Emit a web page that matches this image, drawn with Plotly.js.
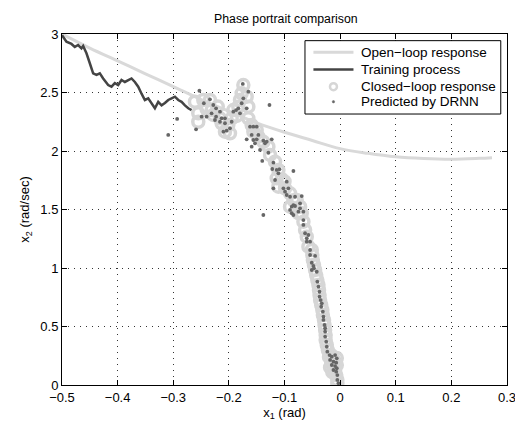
<!DOCTYPE html>
<html>
<head>
<meta charset="utf-8">
<script src="https://cdn.plot.ly/plotly-3.0.1.min.js"></script>
<style>html,body{margin:0;padding:0;background:#fff;}#chart{width:515px;height:423px;}</style>
</head>
<body>
<div id="chart"></div>
<script>
// Open-loop response (light gray curve)
const openX = [-0.5, -0.45, -0.4, -0.35, -0.3, -0.25, -0.2, -0.15, -0.1, -0.05, 0.0, 0.05, 0.1, 0.15, 0.2, 0.25, 0.273];
const openY = [3.0, 2.88, 2.77, 2.66, 2.55, 2.44, 2.34, 2.24, 2.16, 2.09, 2.02, 1.98, 1.95, 1.935, 1.929, 1.937, 1.943];

// Training process (dark jagged line)
const trainX = [-0.5, -0.492, -0.483, -0.477, -0.471, -0.465, -0.462, -0.456, -0.45, -0.444, -0.438, -0.432, -0.426, -0.417, -0.411, -0.405, -0.399, -0.393, -0.387, -0.381, -0.375, -0.369, -0.363, -0.357, -0.351, -0.345, -0.339, -0.333, -0.327, -0.321, -0.315, -0.309, -0.303, -0.297, -0.291, -0.285, -0.279, -0.273, -0.267];
const trainY = [2.99, 2.934, 2.915, 2.89, 2.906, 2.878, 2.897, 2.835, 2.75, 2.664, 2.65, 2.664, 2.62, 2.564, 2.55, 2.58, 2.564, 2.607, 2.59, 2.607, 2.62, 2.59, 2.55, 2.49, 2.436, 2.45, 2.408, 2.365, 2.42, 2.39, 2.41, 2.436, 2.45, 2.464, 2.436, 2.42, 2.39, 2.365, 2.35];

// Closed-loop response (light gray open circles)
const closedX = [-0.261, -0.255, -0.255, -0.246, -0.240, -0.234, -0.231, -0.228, -0.220, -0.216, -0.213, -0.207, -0.198, -0.201, -0.195, -0.192, -0.186, -0.183, -0.180, -0.177, -0.174, -0.168, -0.165, -0.165, -0.159, -0.156, -0.150, -0.147, -0.138, -0.129, -0.126, -0.117, -0.111, -0.114, -0.105, -0.111, -0.100, -0.099, -0.090, -0.084, -0.090, -0.078, -0.075, -0.072, -0.069, -0.066, -0.063, -0.060, -0.057,
  -0.051, -0.050, -0.049, -0.047, -0.045, -0.043, -0.041, -0.039, -0.038, -0.037, -0.036, -0.034, -0.032, -0.031, -0.029, -0.028, -0.027, -0.026, -0.026, -0.024, -0.022, -0.020, -0.016, -0.011, -0.006, -0.016, -0.013, -0.006, -0.018, -0.009, -0.009, -0.014, -0.007, -0.005, -0.005];
const closedY = [2.421, 2.322, 2.250, 2.436, 2.360, 2.436, 2.350, 2.308, 2.380, 2.279, 2.237, 2.165, 2.151, 2.222, 2.279, 2.350, 2.300, 2.379, 2.436, 2.493, 2.564, 2.464, 2.379, 2.279, 2.222, 2.165, 2.180, 2.122, 2.079, 2.037, 1.966, 1.909, 1.838, 1.767, 1.760, 1.695, 1.740, 1.681, 1.638, 1.580, 1.524, 1.581, 1.470, 1.524, 1.467, 1.396, 1.325, 1.268, 1.182,
  1.154, 1.111, 1.068, 1.026, 0.983, 0.940, 0.897, 0.855, 0.812, 0.769, 0.726, 0.684, 0.641, 0.598, 0.556, 0.513, 0.470, 0.427, 0.385, 0.342, 0.299, 0.240, 0.256, 0.214, 0.230, 0.190, 0.171, 0.170, 0.150, 0.150, 0.128, 0.110, 0.085, 0.043, 0.017];

// Predicted by DRNN (small dark gray dots)
const predX = [-0.253, -0.245, -0.234, -0.228, -0.249, -0.240, -0.231, -0.225, -0.259, -0.223, -0.216, -0.213, -0.207, -0.210, -0.204, -0.198, -0.195, -0.192, -0.187, -0.183, -0.180, -0.177, -0.174, -0.175, -0.165, -0.168, -0.207, -0.216, -0.223,
  -0.162, -0.156, -0.150, -0.159, -0.168, -0.156, -0.150, -0.147, -0.153, -0.138, -0.132, -0.135, -0.123, -0.159, -0.144, -0.129, -0.140, -0.120, -0.122, -0.114, -0.111, -0.117, -0.120, -0.102, -0.093, -0.084, -0.096, -0.109,
  -0.099, -0.096, -0.090, -0.081, -0.069, -0.072, -0.084, -0.087, -0.081, -0.090, -0.087, -0.075, -0.066, -0.084, -0.138, -0.066, -0.066, -0.063, -0.057, -0.060, -0.060, -0.054, -0.054, -0.054, -0.045, -0.072,
  -0.051, -0.048, -0.047, -0.051, -0.042, -0.041, -0.039, -0.037, -0.037, -0.035, -0.033, -0.034, -0.031, -0.030, -0.030, -0.028, -0.027,
  -0.027, -0.027, -0.025, -0.024, -0.023, -0.019, -0.015, -0.009, -0.006, -0.018, -0.012, -0.007, -0.015, -0.009, -0.006, -0.012, -0.007, -0.005, -0.005, -0.003,
  -0.293, -0.309, -0.127];
const predY = [2.515, 2.408, 2.442, 2.393, 2.293, 2.293, 2.322, 2.265, 2.185, 2.293, 2.250, 2.279, 2.237, 2.165, 2.174, 2.194, 2.250, 2.336, 2.350, 2.365, 2.322, 2.408, 2.450, 2.573, 2.507, 2.365, 2.279, 2.336, 2.365,
  2.208, 2.208, 2.208, 2.137, 2.100, 2.094, 2.100, 2.137, 2.066, 2.088, 2.080, 2.066, 2.100, 2.037, 2.009, 1.985, 1.915, 1.900, 1.846, 1.838, 1.809, 1.752, 1.681, 1.681, 1.681, 1.829, 1.738, 1.844,
  1.652, 1.624, 1.609, 1.609, 1.615, 1.553, 1.538, 1.524, 1.530, 1.496, 1.468, 1.481, 1.481, 1.453, 1.453, 1.410, 1.368, 1.297, 1.282, 1.254, 1.225, 1.225, 1.154, 1.111, 1.103, 1.510,
  1.045, 1.017, 0.997, 0.983, 0.968, 0.883, 0.840, 0.797, 0.755, 0.726, 0.698, 0.669, 0.627, 0.584, 0.556, 0.513, 0.485,
  0.456, 0.413, 0.370, 0.327, 0.285, 0.256, 0.242, 0.256, 0.228, 0.214, 0.199, 0.191, 0.171, 0.162, 0.143, 0.128, 0.114, 0.085, 0.043, 0.015,
  2.274, 2.137, 2.393];

const xTicks = [-0.5, -0.4, -0.3, -0.2, -0.1, 0, 0.1, 0.2, 0.3];
const yTicks = [0, 0.5, 1, 1.5, 2, 2.5, 3];
const seriesNames = ['Open\u2212loop response', 'Training process', 'Closed\u2212loop response', 'Predicted by DRNN'];

const lightGray = '#d6d6d6';
const darkLine = '#444444';
const dotColor = '#666666';

const traces = [
  {x: openX, y: openY, type: 'scatter', mode: 'lines', name: seriesNames[0],
   line: {color: '#d9d9d9', width: 3, shape: 'spline'}},
  {x: trainX, y: trainY, type: 'scatter', mode: 'lines', name: seriesNames[1],
   line: {color: darkLine, width: 2.5}},
  {x: closedX, y: closedY, type: 'scatter', mode: 'markers', name: seriesNames[2],
   marker: {symbol: 'circle-open', size: 11, color: lightGray, line: {width: 3.5, color: lightGray}}},
  {x: predX, y: predY, type: 'scatter', mode: 'markers', name: seriesNames[3],
   marker: {symbol: 'circle', size: 3.8, color: dotColor}}
];

// Legend box drawn in paper coordinates (MATLAB-style compact legend)
const legBox = {x0: 0.546, x1: 0.986, y0: 0.772, y1: 0.981};
const legRows = [0.948, 0.899, 0.850, 0.807];
const legSample = {x0: 0.565, x1: 0.655, xm: 0.610, text: 0.667};

const shapes = [
  {type: 'rect', xref: 'paper', yref: 'paper', x0: legBox.x0, x1: legBox.x1, y0: legBox.y0, y1: legBox.y1,
   line: {color: '#000', width: 1}, fillcolor: '#fff', layer: 'above'},
  {type: 'line', xref: 'paper', yref: 'paper', x0: legSample.x0, x1: legSample.x1, y0: legRows[0], y1: legRows[0],
   line: {color: '#d9d9d9', width: 3}},
  {type: 'line', xref: 'paper', yref: 'paper', x0: legSample.x0, x1: legSample.x1, y0: legRows[1], y1: legRows[1],
   line: {color: darkLine, width: 2.5}},
  {type: 'circle', xref: 'paper', yref: 'paper', xsizemode: 'pixel', ysizemode: 'pixel',
   xanchor: legSample.xm, yanchor: legRows[2], x0: -3.5, x1: 3.5, y0: -3.5, y1: 3.5,
   line: {color: lightGray, width: 2.5}, fillcolor: 'rgba(0,0,0,0)'},
  {type: 'circle', xref: 'paper', yref: 'paper', xsizemode: 'pixel', ysizemode: 'pixel',
   xanchor: legSample.xm, yanchor: legRows[3], x0: -1.2, x1: 1.2, y0: -1.2, y1: 1.2,
   line: {color: dotColor, width: 0.5}, fillcolor: dotColor}
];

const annotations = seriesNames.map((t, i) => ({
  text: t, xref: 'paper', yref: 'paper', x: legSample.text, y: legRows[i],
  xanchor: 'left', yanchor: 'middle', showarrow: false, font: {size: 13.5, color: '#000'}
}));

const axisCommon = {
  showline: true, linecolor: '#000', linewidth: 1, mirror: 'ticks',
  ticks: 'inside', ticklen: 5, tickcolor: '#000', tickwidth: 1,
  showgrid: true, gridcolor: '#333', gridwidth: 1, griddash: '1px,5px',
  zeroline: false, tickfont: {size: 13, color: '#000'}, ticklabeloverflow: 'allow'
};

const layout = {
  width: 515, height: 423,
  margin: {l: 62, r: 8, t: 34, b: 38},
  paper_bgcolor: '#fff', plot_bgcolor: '#fff',
  font: {family: 'Liberation Sans, Arial, sans-serif', size: 12, color: '#000'},
  title: {text: 'Phase portrait comparison', font: {size: 12.3}, x: 0.555, xanchor: 'center', y: 0.955, yanchor: 'middle'},
  showlegend: false,
  shapes: shapes,
  annotations: annotations,
  xaxis: Object.assign({}, axisCommon, {range: [-0.5, 0.3], tickvals: xTicks, ticktext: xTicks.map(v => (v < 0 ? '\u2212' : '') + Math.abs(v)),
    title: {text: 'x<sub>1</sub> (rad)', font: {size: 13}, standoff: 3}}),
  yaxis: Object.assign({}, axisCommon, {range: [0, 3], tickvals: yTicks, ticktext: yTicks.map(String),
    title: {text: 'x<sub>2</sub> (rad/sec)', font: {size: 13}, standoff: 7}})
};

Plotly.newPlot('chart', traces, layout, {displayModeBar: false, staticPlot: true});
</script>
</body>
</html>
